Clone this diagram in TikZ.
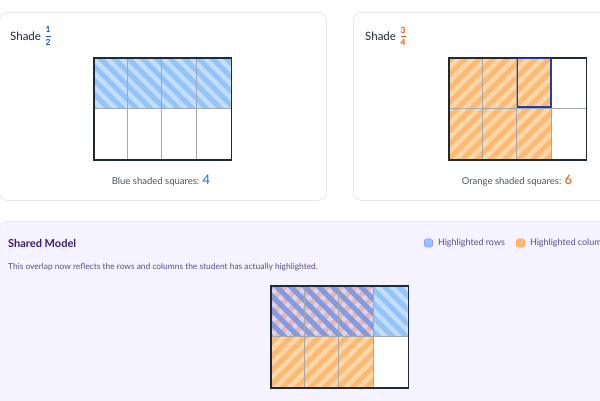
\documentclass[tikz,border=0pt]{standalone}
\usepackage{amsmath}
\usepackage{fontspec}
\setmainfont{Lato}
\usetikzlibrary{positioning}

\definecolor{cardline}{HTML}{E5E7EB}
\definecolor{panelfill}{HTML}{F5F3FF}
\definecolor{panelline}{HTML}{E9E4F7}
\definecolor{gridedge}{HTML}{1F2937}
\definecolor{cellgrey}{HTML}{A3A8B0}
\definecolor{inkdark}{HTML}{1F2937}
\definecolor{inkgrey}{HTML}{4B5563}
\definecolor{fracblue}{HTML}{1D4ED8}
\definecolor{numblue}{HTML}{2563EB}
\definecolor{fracorange}{HTML}{EA580C}
\definecolor{bluebg}{HTML}{C3DDFD}
\definecolor{bluestr}{HTML}{93C5FD}
\definecolor{orangebg}{HTML}{FED7AA}
\definecolor{orangestr}{HTML}{FDBA74}
\definecolor{mixbg}{HTML}{D8D4F6}
\definecolor{mixorange}{HTML}{E8B8B0}
\definecolor{mixblue}{HTML}{6F95EA}
\definecolor{pickblue}{HTML}{1E40AF}
\definecolor{titlepurple}{HTML}{3B1A78}
\definecolor{textpurple}{HTML}{5B4B8A}

\begin{document}
\begin{tikzpicture}[x=1pt, y=-1pt, every node/.style={inner sep=0pt, font=\fontsize{9}{11}\selectfont}]

    % Define block styles
    \tikzstyle{card} = [draw=cardline, fill=white, line width=0.8pt, rounded corners=8pt, anchor=north west]
    \tikzstyle{panel} = [draw=panelline, fill=panelfill, line width=0.8pt, rounded corners=8pt, anchor=north west]
    \tikzstyle{gridframe} = [draw=gridedge, line width=1.8pt, minimum width=137.6, minimum height=102, anchor=north west]
    \tikzstyle{cellline} = [draw=cellgrey, line width=0.8pt]
    \tikzstyle{bluestripe} = [draw=bluestr, line width=5pt]
    \tikzstyle{orangestripe} = [draw=orangestr, line width=5pt]
    \tikzstyle{heading} = [anchor=west, text=inkdark, font=\fontsize{11.5}{13}\selectfont]
    \tikzstyle{fraction} = [anchor=west, font=\fontsize{8.5}{9}\selectfont\bfseries]
    \tikzstyle{caption} = [text=inkgrey, font=\fontsize{9.5}{11}\selectfont]
    \tikzstyle{legendbox} = [minimum size=8, rounded corners=1.5pt, line width=0.6pt]
    \tikzstyle{legendtext} = [anchor=west, text=textpurple, font=\fontsize{9}{10}\selectfont]

    \useasboundingbox (0,0) rectangle (600,400);

    % Place cards
    \node (cardhalf) [card, minimum width=327, minimum height=188] at (-1,12) {};
    \node (cardquarter) [card, minimum width=270, minimum height=188] at (353,12) {};
    \node (shared) [panel, minimum width=625, minimum height=200] at (-1,221) {};

    % Blue rows (left)
    \begin{scope}
      \clip (93,57) rectangle (230.6,108);
      \fill[bluebg] (93,57) rectangle (230.6,108);
      \foreach \s in {-140,-126,...,260} \draw[bluestripe] (\s,0) -- ++(160,160);
    \end{scope}

    % Orange columns (right)
    \begin{scope}
      \clip (448,57) rectangle (551.2,159);
      \fill[orangebg] (448,57) rectangle (551.2,159);
      \foreach \s in {440,454,...,720} \draw[orangestripe] (\s,0) -- ++(-180,180);
    \end{scope}

    % Shared model: blue only, orange only, overlap
    \begin{scope}
      \clip (373.2,285) rectangle (407.6,336);
      \fill[bluebg] (373.2,285) rectangle (407.6,336);
      \foreach \s in {0,14,...,420} \draw[bluestripe] (\s,0) -- ++(400,400);
    \end{scope}
    \begin{scope}
      \clip (270,336) rectangle (373.2,387);
      \fill[orangebg] (270,336) rectangle (373.2,387);
      \foreach \s in {250,264,...,800} \draw[orangestripe] (\s,0) -- ++(-400,400);
    \end{scope}
    \begin{scope}
      \clip (270,285) rectangle (373.2,336);
      \fill[mixbg] (270,285) rectangle (373.2,336);
      \foreach \s in {250,264,...,800} \draw[orangestripe, draw=mixorange] (\s,0) -- ++(-400,400);
      \foreach \s in {-150,-136,...,420} \draw[bluestripe, draw=mixblue, opacity=0.85] (\s,0) -- ++(400,400);
    \end{scope}
    \fill[white] (373.2,336) rectangle (407.6,387);

    % Cell lines
    \foreach \gx/\gy in {93/57, 448/57, 270/285} {
      \foreach \k in {1,2,3} \draw[cellline] (\gx+34.4*\k,\gy) -- (\gx+34.4*\k,\gy+102);
      \draw[cellline] (\gx,\gy+51) -- (\gx+137.6,\gy+51);
    }

    % Grid frames
    \node (gridhalf) [gridframe] at (93,57) {};
    \node (gridquarter) [gridframe] at (448,57) {};
    \node (gridshared) [gridframe] at (270,285) {};
    \draw[pickblue, line width=1.5pt] (517.6,58.5) rectangle (551.2,107.2);

    % Headings and captions
    \node (shadehalf) [heading] at (10,36) {Shade};
    \node (frachalf) [fraction, text=fracblue, right=3pt of shadehalf] {$\genfrac{}{}{0.7pt}{0}{\mbox{1}}{\mbox{2}}$};
    \node (counthalf) [caption] at (161,181) {Blue shaded squares: {\color{numblue}\fontsize{13}{13}\selectfont 4}};

    \node (shadequarter) [heading] at (365,36) {Shade};
    \node (fracquarter) [fraction, text=fracorange, right=3pt of shadequarter] {$\genfrac{}{}{0.7pt}{0}{\mbox{3}}{\mbox{4}}$};
    \node (countquarter) [caption] at (517,181) {Orange shaded squares: {\color{fracorange}\fontsize{13}{13}\selectfont 6}};

    \node (sharedtitle) [anchor=west, text=titlepurple, font=\fontsize{11}{12}\selectfont\bfseries] at (8,243) {Shared Model};
    \node (sharednote) [anchor=west, text=textpurple, font=\fontsize{8.4}{10}\selectfont] at (8,267) {This overlap now reflects the rows and columns the student has actually highlighted.};

    % Legend
    \node (keyrows) [legendbox, fill=bluestr, draw=blue!40] at (428.5,243) {};
    \node (keyrowstext) [legendtext, right=5pt of keyrows] {Highlighted rows};
    \node (keycols) [legendbox, fill=orangestr, draw=orange!70] at (520.5,243) {};
    \node (keycolstext) [legendtext, right=5pt of keycols] {Highlighted columns};

\end{tikzpicture}
\end{document}
